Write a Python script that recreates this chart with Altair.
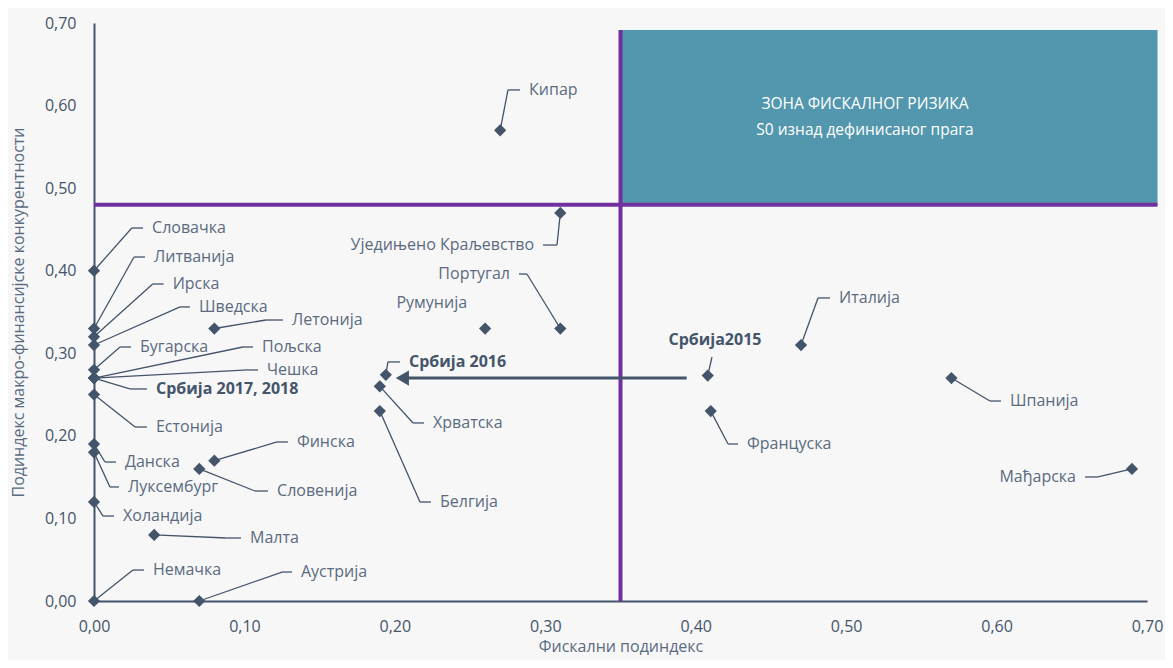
import altair as alt
import pandas as pd

FONT = "Open Sans"
SLATE = "#44546A"
LABEL = "#5A6B80"
PURPLE = "#7030A0"
TEAL = "#5397AE"

# ---- data ----
names = ["Словачка", "Литванија", "Ирска", "Шведска", "Летонија", "Бугарска",
         "Пољска", "Чешка", "Србија 2017, 2018", "Естонија", "Данска", "Луксембург",
         "Холандија", "Финска", "Словенија", "Малта", "Немачка", "Аустрија",
         "Кипар", "Уједињено Краљевство", "Португал", "Румунија", "Србија 2016",
         "Хрватска", "Белгија", "Србија2015", "Француска", "Италија", "Шпанија", "Мађарска"]
fiscal = [0.00, 0.00, 0.00, 0.00, 0.08, 0.00,
          0.00, 0.00, 0.00, 0.00, 0.00, 0.00,
          0.00, 0.08, 0.07, 0.04, 0.00, 0.07,
          0.27, 0.31, 0.31, 0.26, 0.194,
          0.19, 0.19, 0.408, 0.41, 0.47, 0.57, 0.69]
macro = [0.40, 0.33, 0.32, 0.31, 0.33, 0.28,
         0.27, 0.27, 0.27, 0.25, 0.19, 0.18,
         0.12, 0.17, 0.16, 0.08, 0.00, 0.00,
         0.57, 0.47, 0.33, 0.33, 0.274,
         0.26, 0.23, 0.273, 0.23, 0.31, 0.27, 0.16]

# label anchors (data units) and leader-line elbows
label_x = [0.0386, 0.0399, 0.0523, 0.0698, 0.1316, 0.0306,
           0.1117, 0.1150, 0.0412, 0.0412, 0.0206, 0.0226,
           0.0193, 0.1349, 0.1217, 0.1037, 0.0392, 0.1376,
           0.2892, 0.2925, 0.2765, 0.2480, 0.2094,
           0.2254, 0.2300, 0.4128, 0.4341, 0.4953, 0.6089, 0.6528]
label_y = [0.4517, 0.4166, 0.3839, 0.3561, 0.3403, 0.3076,
           0.3076, 0.2798, 0.2568, 0.2107, 0.1683, 0.1381,
           0.1029, 0.1926, 0.1332, 0.0763, 0.0375, 0.0351,
           0.6189, 0.4311, 0.3960, 0.3609, 0.2895,
           0.2156, 0.1199, 0.3161, 0.1901, 0.3670, 0.2422, 0.1502]
label_align = ["left"] * 19 + ["right", "right", "right", "left",
                               "left", "left", "center", "left", "left", "left", "right"]
label_bold = [n.startswith("Србија") for n in names]
elbow_x = [0.0251, 0.0266, 0.0390, 0.0572, 0.1143, 0.0173,
           0.0990, 0.1024, 0.0239, 0.0273, 0.0073, 0.0106,
           0.0060, 0.1217, 0.1070, 0.0880, 0.0259, 0.1250,
           0.2752, 0.3078, 0.2878, None, 0.1954,
           0.2121, 0.2167, 0.4108, 0.4215, 0.4813, 0.5956, 0.6674]
elbow_y = [label_y[i] for i in range(len(names))]
elbow_y[25] = 0.2955

threshold_fiscal = 0.35
threshold_macro = 0.48
zone_x = [0.35, 0.707]
zone_y = [0.48, 0.6915]
zone_text = ["ЗОНА ФИСКАЛНОГ РИЗИКА", "S0 изнад дефинисаног прага"]
zone_text_x = 0.5125
zone_text_y = [0.6019, 0.5705]
arrow_from, arrow_to, arrow_y = 0.394, 0.205, 0.27
ticks = [0.0, 0.1, 0.2, 0.3, 0.4, 0.5, 0.6, 0.7]

# ---- tables ----
pts = pd.DataFrame({"name": names, "x": fiscal, "y": macro})
lab = pd.DataFrame({"name": names, "tx": label_x, "ty": label_y,
                    "align": label_align, "bold": label_bold})

diag_rows, hseg_rows = [], []
for i in range(len(names)):
    if elbow_x[i] is None:
        continue
    diag_rows.append({"x1": fiscal[i], "y1": macro[i], "x2": elbow_x[i], "y2": elbow_y[i]})
    if label_align[i] == "left":
        hseg_rows.append({"x1": elbow_x[i], "x2": label_x[i] - 0.006, "y1": label_y[i]})
    elif label_align[i] == "right":
        hseg_rows.append({"x1": elbow_x[i], "x2": label_x[i] + 0.006, "y1": label_y[i]})
diag = pd.DataFrame(diag_rows)
hseg = pd.DataFrame(hseg_rows)

lab_expr = "replace(format(datum.value, '.2f'), '.', ',')"
xs = alt.Scale(domain=[0, 0.7], nice=False)
ys = alt.Scale(domain=[0, 0.7], nice=False)
xax = alt.Axis(values=ticks, labelExpr=lab_expr, title="Фискални подиндекс",
               grid=False, ticks=False, labelPadding=17, titlePadding=4,
               labelFlush=False)
yax = alt.Axis(values=ticks, labelExpr=lab_expr,
               title="Подиндекс макро-финансијске конкурентности",
               grid=False, ticks=False, labelPadding=18, titlePadding=18,
               labelFlush=False)


def X(f):
    return alt.X(f, type="quantitative", scale=xs, axis=xax)


def Y(f):
    return alt.Y(f, type="quantitative", scale=ys, axis=yax)


zone = pd.DataFrame({"x1": [zone_x[0]], "x2": [zone_x[1]], "y1": [zone_y[0]], "y2": [zone_y[1]]})
zone_rect = alt.Chart(zone).mark_rect(color=TEAL).encode(
    x=X("x1"), x2="x2", y=Y("y1"), y2="y2")

ztext = pd.DataFrame({"x": [zone_text_x] * 2, "y": zone_text_y, "t": zone_text})
zone_lbl = alt.Chart(ztext).mark_text(color="white", font=FONT, fontSize=15.5,
                                      align="center", baseline="middle").encode(
    x=X("x"), y=Y("y"), text="t:N")

hline = alt.Chart(pd.DataFrame({"x1": [0.0], "x2": [zone_x[1]], "y1": [threshold_macro]})).mark_rule(
    color=PURPLE, strokeWidth=4).encode(x=X("x1"), x2="x2", y=Y("y1"))
vline = alt.Chart(pd.DataFrame({"x1": [threshold_fiscal], "y1": [0.0], "y2": [zone_y[1]]})).mark_rule(
    color=PURPLE, strokeWidth=4).encode(x=X("x1"), y=Y("y1"), y2="y2")

diag_l = alt.Chart(diag).mark_rule(color=SLATE, strokeWidth=1.3).encode(
    x=X("x1"), x2="x2", y=Y("y1"), y2="y2")
hseg_l = alt.Chart(hseg).mark_rule(color=SLATE, strokeWidth=1.3).encode(
    x=X("x1"), x2="x2", y=Y("y1"))

arrow_df = pd.DataFrame({"x1": [arrow_from], "x2": [arrow_to], "y1": [arrow_y]})
shaft = alt.Chart(arrow_df).mark_rule(color=SLATE, strokeWidth=3).encode(
    x=X("x1"), x2="x2", y=Y("y1"))
head = alt.Chart(arrow_df).mark_point(shape="triangle-left", filled=True, size=230,
                                      color=SLATE, opacity=1).encode(x=X("x2"), y=Y("y1"))

points = alt.Chart(pts).mark_point(shape="diamond", filled=True, size=150,
                                   color=SLATE, opacity=1).encode(x=X("x"), y=Y("y"))


def text_layer(align, bold):
    d = lab[(lab["align"] == align) & (lab["bold"] == bold)]
    return alt.Chart(d).mark_text(
        align=align, baseline="middle", font=FONT, fontSize=16,
        fontWeight="bold" if bold else "normal",
        color=SLATE if bold else LABEL).encode(x=X("tx"), y=Y("ty"), text="name:N")


chart = alt.layer(
    zone_rect, zone_lbl, hline, vline, diag_l, hseg_l, shaft, head, points,
    text_layer("left", False), text_layer("right", False),
    text_layer("left", True), text_layer("center", True),
).properties(
    width=1053, height=578,
    padding={"left": 86, "top": 15, "right": 18, "bottom": 59},
    autosize=alt.AutoSizeParams(type="none"),
    background="#f7f7f7",
).configure_view(stroke=None).configure_axis(
    domainColor=SLATE, domainWidth=2, labelFont=FONT, labelFontSize=16,
    labelColor=SLATE, titleFont=FONT, titleFontSize=16, titleFontWeight="normal",
    titleColor=LABEL,
)

chart.save("out.html", embed_options={"renderer": "svg", "actions": False})
